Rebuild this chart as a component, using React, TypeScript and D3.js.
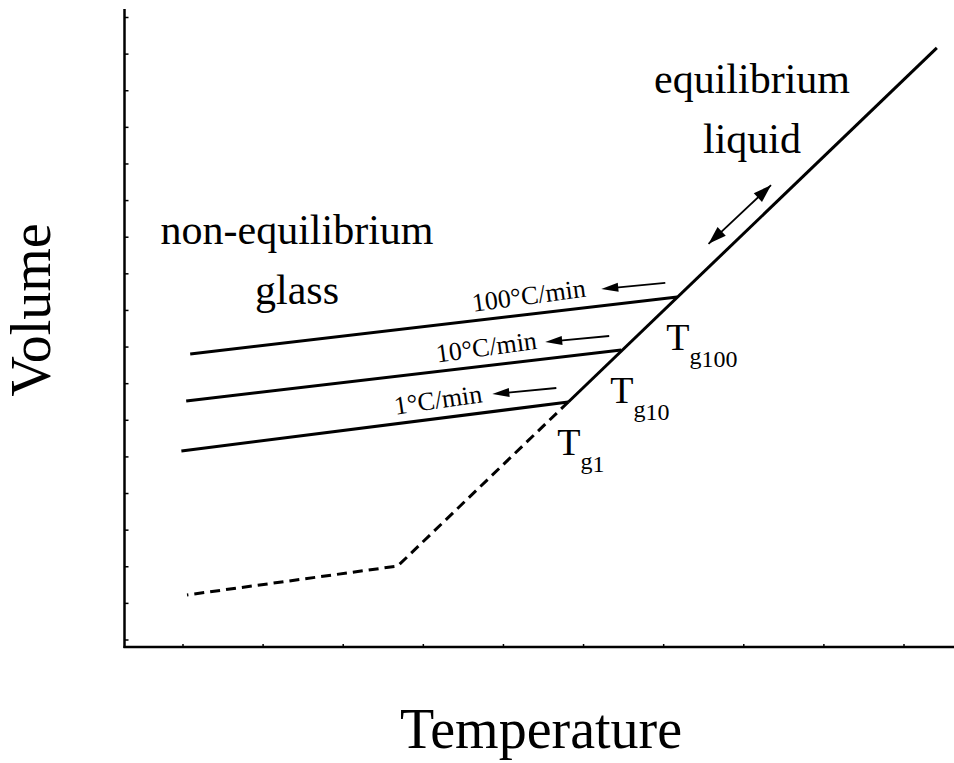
import React from "react";
import * as d3 from "d3";

// ---- data (in arbitrary Temperature / Volume units) ----
const tempTicks = [0, 1, 2, 3, 4, 5, 6, 7, 8, 9];
const volTicks = d3.range(0, 18);
const liquidLine = [
  { t: 9.41, v: 16.17 },
  { t: 4.81, v: 6.5 },
];
const supercooledLine = [
  { t: 4.81, v: 6.5 },
  { t: 2.68, v: 2.02 },
  { t: 0.05, v: 1.23 },
];
const rateLabels = ["100°C/min", "10°C/min", "1°C/min"];
const tgSubscripts = ["100", "10", "1"];
const glassStart = [
  { t: 0.09, v: 7.81 },
  { t: 0.04, v: 6.53 },
  { t: -0.02, v: 5.16 },
];
const glassEnd = [
  { t: 6.17, v: 9.37 },
  { t: 5.47, v: 7.92 },
  { t: 4.81, v: 6.5 },
];
const rateLabelT = [4.33, 3.8, 3.2];
const doubleArrow = [
  { t: 6.56, v: 10.82 },
  { t: 7.34, v: 12.42 },
];

const W = 954;
const H = 763;
const FONT = "'Liberation Serif', 'Times New Roman', serif";

export default function App() {
  const x = d3.scaleLinear().domain([0, 9]).range([183, 904]);
  const y = d3.scaleLinear().domain([0, 17]).range([640, 17.5]);
  const line = d3
    .line<{ t: number; v: number }>()
    .x((d) => x(d.t))
    .y((d) => y(d.v));

  const x0 = 124.5;
  const y0 = 647;

  const arrowHead = (tx: number, ty: number, fx: number, fy: number, len: number, hw: number) => {
    const a = Math.atan2(ty - fy, tx - fx);
    const bx = tx - len * Math.cos(a);
    const by = ty - len * Math.sin(a);
    const px = -Math.sin(a) * hw;
    const py = Math.cos(a) * hw;
    return `M${tx},${ty}L${bx + px},${by + py}L${bx - px},${by - py}Z`;
  };

  return (
    <svg
      width={W}
      height={H}
      style={{ position: "absolute", left: 0, top: 0, background: "#fff" }}
      fontFamily={FONT}
    >
      {/* axes */}
      <line x1={x0} y1={9} x2={x0} y2={y0 + 1} stroke="#000" strokeWidth={2.5} />
      <line x1={x0 - 1} y1={y0} x2={W} y2={y0} stroke="#000" strokeWidth={2.5} />
      {volTicks.map((v) => (
        <line key={"vy" + v} x1={x0} x2={x0 + 4} y1={y(v)} y2={y(v)} stroke="#000" strokeWidth={1.5} />
      ))}
      {tempTicks.map((t) => (
        <line key={"tx" + t} x1={x(t)} x2={x(t)} y1={y0} y2={y0 - 3} stroke="#000" strokeWidth={1.5} />
      ))}

      {/* axis titles */}
      <text x={541} y={748} fontSize={56} textAnchor="middle">
        Temperature
      </text>
      <text transform={`translate(50,310) rotate(-90)`} fontSize={56} textAnchor="middle">
        Volume
      </text>

      {/* equilibrium liquid line */}
      <path d={line(liquidLine) || ""} fill="none" stroke="#000" strokeWidth={3} />
      <path
        d={line(supercooledLine) || ""}
        fill="none"
        stroke="#000"
        strokeWidth={3}
        strokeDasharray="10,6"
      />

      {/* glass lines */}
      {glassStart.map((s, i) => {
        const e = glassEnd[i];
        const sx = x(s.t), sy = y(s.v), ex = x(e.t), ey = y(e.v);
        const ang = (Math.atan2(ey - sy, ex - sx) * 180) / Math.PI;
        const lt = rateLabelT[i];
        const lx = x(lt);
        const ly = sy + ((lx - sx) / (ex - sx)) * (ey - sy) - 10;
        const tailX = ex - 12, tailY = ey - 14;
        const tipX = tailX - 64, tipY = tailY + 6;
        return (
          <g key={"g" + i}>
            <path d={line([s, e]) || ""} fill="none" stroke="#000" strokeWidth={3} />
            <text
              transform={`translate(${lx},${ly}) rotate(${ang - 1})`}
              fontSize={26}
              textAnchor="middle"
            >
              {rateLabels[i]}
            </text>
            <line x1={tailX} y1={tailY} x2={tipX + 12} y2={tipY - 1.1} stroke="#000" strokeWidth={1.8} />
            <path d={arrowHead(tipX, tipY, tailX, tailY, 17, 4.5)} fill="#000" />
            <text x={ex - 11} y={ey + 53} fontSize={38}>
              T
              <tspan dy={14} fontSize={24}>
                g
              </tspan>
              <tspan dy={3} fontSize={24}>
                {tgSubscripts[i]}
              </tspan>
            </text>
          </g>
        );
      })}

      {/* double arrow along liquid line */}
      {(() => {
        const ax = x(doubleArrow[0].t), ay = y(doubleArrow[0].v);
        const bx = x(doubleArrow[1].t), by = y(doubleArrow[1].v);
        return (
          <g>
            <line x1={ax} y1={ay} x2={bx} y2={by} stroke="#000" strokeWidth={1.8} />
            <path d={arrowHead(ax, ay, bx, by, 18, 6)} fill="#000" />
            <path d={arrowHead(bx, by, ax, ay, 18, 6)} fill="#000" />
          </g>
        );
      })()}

      {/* region labels */}
      <text x={297} y={244} fontSize={42} textAnchor="middle">
        non-equilibrium
      </text>
      <text x={297} y={304} fontSize={42} textAnchor="middle">
        glass
      </text>
      <text x={752} y={93} fontSize={42} textAnchor="middle">
        equilibrium
      </text>
      <text x={752} y={153} fontSize={42} textAnchor="middle">
        liquid
      </text>
    </svg>
  );
}
